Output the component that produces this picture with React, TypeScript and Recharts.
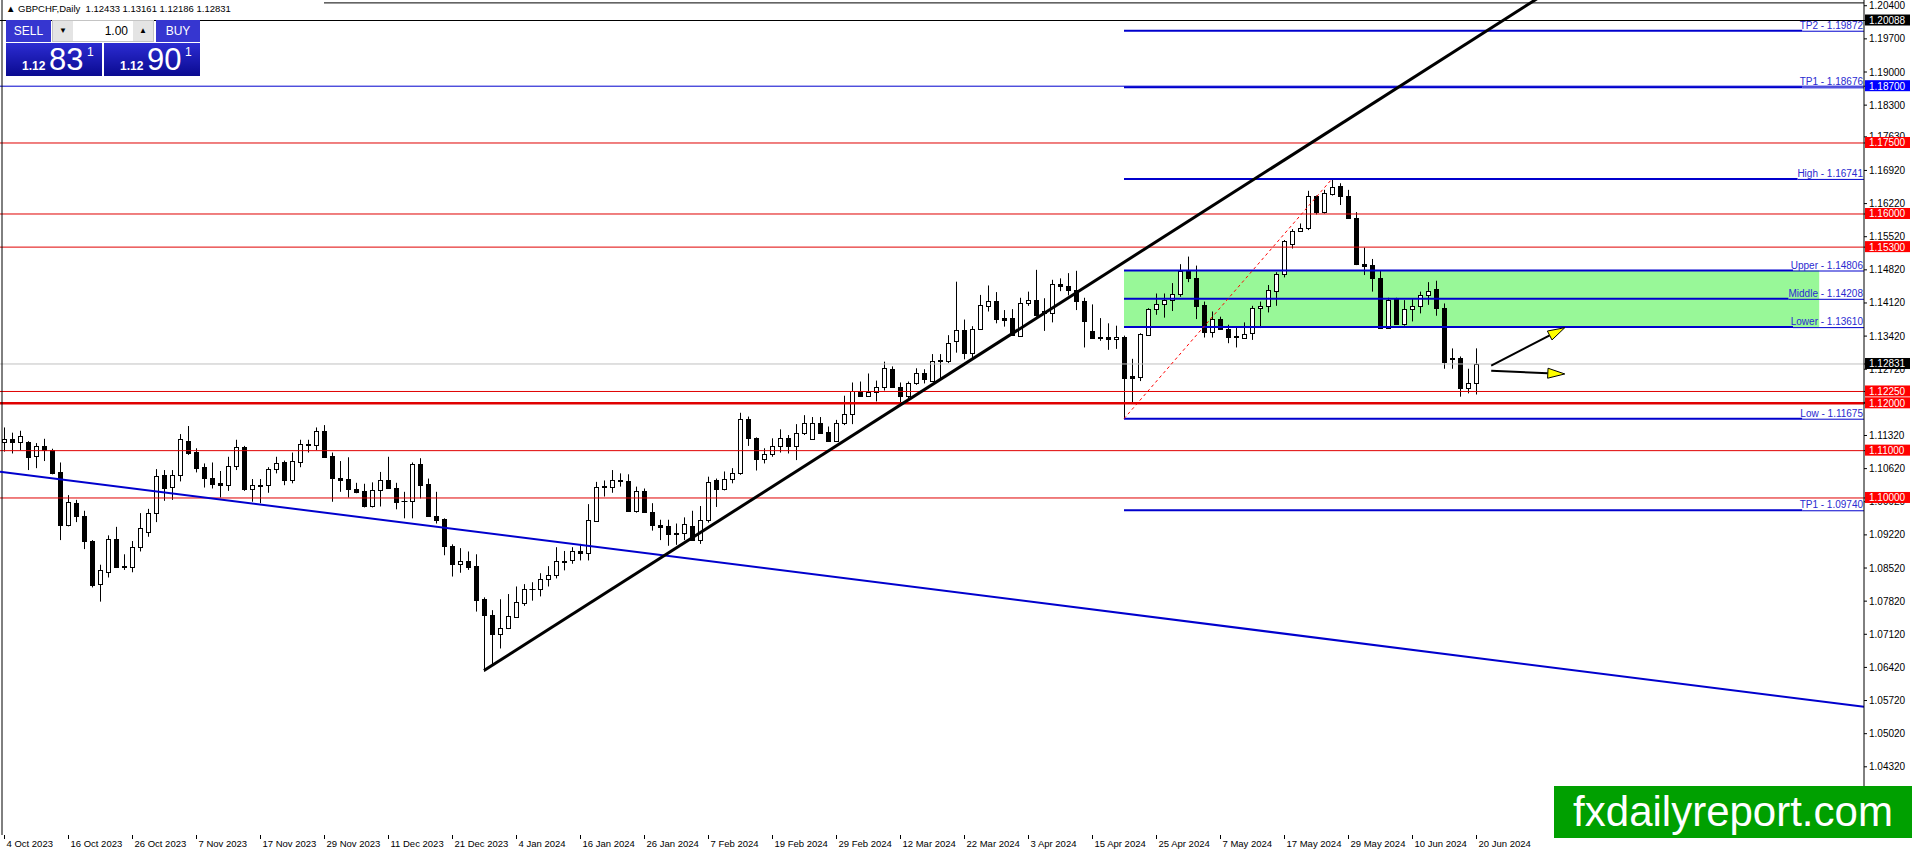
import { ComposedChart, Bar, XAxis, YAxis, ReferenceLine, ReferenceArea } from 'recharts'

// GBPCHF daily candles, 4 Oct 2023 .. 20 Jun 2024 (one per trading day)
const opens = [
  1.1118, 1.1125, 1.1118, 1.1118, 1.1088, 1.1109, 1.1101, 1.1054, 1.0942, 1.0990,
  1.0962, 1.0910, 1.0818, 1.0843, 1.0913, 1.0856, 1.0855, 1.0896, 1.0928, 1.0968,
  1.1049, 1.1023, 1.1049, 1.1120, 1.1097, 1.1066, 1.1042, 1.1032, 1.1028, 1.1067,
  1.1108, 1.1018, 1.1027, 1.1027, 1.1061, 1.1075, 1.1037, 1.1077, 1.1115, 1.1111,
  1.1142, 1.1089, 1.1043, 1.1040, 1.1020, 1.1015, 1.0982, 1.1016, 1.1039, 1.1022,
  1.0994, 1.0993, 1.1072, 1.1030, 1.0962, 1.0956, 1.0899, 1.0860, 1.0867, 1.0857,
  1.0787, 1.0753, 1.0712, 1.0725, 1.0749, 1.0779, 1.0807, 1.0807, 1.0828, 1.0837,
  1.0865, 1.0868, 1.0887, 1.0883, 1.0952, 1.1023, 1.1023, 1.1039, 1.1035, 1.0973,
  1.1015, 1.0971, 1.0942, 1.0941, 1.0925, 1.0925, 1.0941, 1.0911, 1.0954, 1.1037,
  1.1018, 1.1041, 1.1052, 1.1166, 1.1126, 1.1082, 1.1092, 1.1109, 1.1126, 1.1109,
  1.1138, 1.1124, 1.1158, 1.1139, 1.1121, 1.1159, 1.1177, 1.1225, 1.1216, 1.1223,
  1.1235, 1.1272, 1.1235, 1.1216, 1.1242, 1.1263, 1.1248, 1.1289, 1.1289, 1.1332,
  1.1354, 1.1306, 1.1358, 1.1406, 1.1416, 1.1380, 1.1380, 1.1343, 1.1413, 1.1418,
  1.1390, 1.1390, 1.1452, 1.1447, 1.1440, 1.1416, 1.1353, 1.1340, 1.1340, 1.1335,
  1.1341, 1.1258, 1.1256, 1.1344, 1.1399, 1.1409, 1.1418, 1.1430, 1.1480, 1.1464,
  1.1408, 1.1350, 1.1378, 1.1357, 1.1342, 1.1339, 1.1348, 1.1401, 1.1406, 1.1438,
  1.1473, 1.1536, 1.1564, 1.1570, 1.1637, 1.1604, 1.1642, 1.1660, 1.1637, 1.1592,
  1.1494, 1.1492, 1.1464, 1.1360, 1.1420, 1.1367, 1.1399, 1.1406, 1.1429, 1.1442,
  1.1401, 1.1295, 1.1295, 1.1232, 1.12433,
]
const highs = [
  1.1149, 1.1138, 1.1142, 1.1120, 1.1116, 1.1125, 1.1104, 1.1075, 1.1006, 1.0996,
  1.0973, 1.0911, 1.0859, 1.0921, 1.0939, 1.0881, 1.0909, 1.0968, 1.0977, 1.1061,
  1.1059, 1.1059, 1.1135, 1.1152, 1.1105, 1.1073, 1.1075, 1.1057, 1.1087, 1.1123,
  1.1110, 1.1040, 1.1040, 1.1065, 1.1087, 1.1079, 1.1096, 1.1123, 1.1123, 1.1149,
  1.1154, 1.1096, 1.1078, 1.1086, 1.1032, 1.1030, 1.1033, 1.1055, 1.1087, 1.1032,
  1.1013, 1.1075, 1.1084, 1.1041, 1.1013, 1.0957, 1.0902, 1.0894, 1.0887, 1.0881,
  1.0790, 1.0763, 1.0786, 1.0797, 1.0813, 1.0818, 1.0822, 1.0841, 1.0856, 1.0896,
  1.0888, 1.0896, 1.0903, 1.0987, 1.1034, 1.1037, 1.1059, 1.1052, 1.1050, 1.1024,
  1.1020, 1.0989, 1.0954, 1.0954, 1.0946, 1.0959, 1.0973, 1.0983, 1.1045, 1.1041,
  1.1056, 1.1063, 1.1180, 1.1172, 1.1128, 1.1105, 1.1126, 1.1145, 1.1133, 1.1156,
  1.1175, 1.1171, 1.1171, 1.1151, 1.1165, 1.1216, 1.1244, 1.1246, 1.1263, 1.1248,
  1.1288, 1.1278, 1.1244, 1.1246, 1.1274, 1.1272, 1.1304, 1.1304, 1.1344, 1.1457,
  1.1377, 1.1363, 1.1429, 1.1449, 1.1435, 1.1397, 1.1399, 1.1423, 1.1436, 1.1482,
  1.1422, 1.1461, 1.1464, 1.1475, 1.1480, 1.1423, 1.1409, 1.1380, 1.1369, 1.1364,
  1.1343, 1.1294, 1.1348, 1.1401, 1.1432, 1.1432, 1.1454, 1.1494, 1.1510, 1.1491,
  1.1415, 1.1394, 1.1383, 1.1366, 1.1359, 1.1371, 1.1406, 1.1415, 1.1450, 1.1477,
  1.1545, 1.1568, 1.1580, 1.1649, 1.1639, 1.1651, 1.16741, 1.1665, 1.1651, 1.1604,
  1.1529, 1.1505, 1.1480, 1.1423, 1.1423, 1.1418, 1.1422, 1.1436, 1.1456, 1.1459,
  1.1411, 1.1316, 1.1299, 1.1273, 1.13161,
]
const lows = [
  1.1098, 1.1094, 1.1101, 1.1059, 1.1063, 1.1078, 1.1050, 1.0911, 1.0940, 1.0949,
  1.0892, 1.0811, 1.0781, 1.0832, 1.0852, 1.0848, 1.0843, 1.0887, 1.0918, 1.0949,
  1.0994, 1.0996, 1.1035, 1.1091, 1.1054, 1.1022, 1.1020, 1.1001, 1.1015, 1.1059,
  1.1015, 1.0992, 1.0989, 1.1011, 1.1052, 1.1027, 1.1031, 1.1065, 1.1096, 1.1101,
  1.1085, 1.0992, 1.1013, 1.1001, 1.1010, 1.0980, 1.0980, 1.0982, 1.1021, 1.0976,
  1.0957, 1.0957, 1.0999, 1.0960, 1.0946, 1.0879, 1.0834, 1.0842, 1.0848, 1.0760,
  1.0633, 1.0645, 1.0682, 1.0723, 1.0748, 1.0772, 1.0783, 1.0792, 1.0813, 1.0830,
  1.0847, 1.0861, 1.0868, 1.0868, 1.0950, 1.1003, 1.1011, 1.1024, 1.0971, 1.0969,
  1.0969, 1.0931, 1.0911, 1.0899, 1.0901, 1.0911, 1.0910, 1.0903, 1.0948, 1.0981,
  1.1016, 1.1031, 1.1049, 1.1110, 1.1058, 1.1073, 1.1087, 1.1096, 1.1094, 1.1080,
  1.1133, 1.1123, 1.1137, 1.1119, 1.1119, 1.1154, 1.1156, 1.1214, 1.1215, 1.1204,
  1.1227, 1.1234, 1.1199, 1.1211, 1.1239, 1.1242, 1.1246, 1.1249, 1.1285, 1.1307,
  1.1293, 1.1295, 1.1356, 1.1394, 1.1369, 1.1362, 1.1343, 1.1341, 1.1406, 1.1383,
  1.1353, 1.1371, 1.1437, 1.1428, 1.1397, 1.1318, 1.1337, 1.1332, 1.1313, 1.1315,
  1.11675, 1.1200, 1.1247, 1.1343, 1.1387, 1.1381, 1.1395, 1.1425, 1.1456, 1.1378,
  1.1339, 1.1339, 1.1355, 1.1327, 1.1318, 1.1336, 1.1334, 1.1359, 1.1392, 1.1406,
  1.1466, 1.1527, 1.1563, 1.1566, 1.1599, 1.1601, 1.1639, 1.1619, 1.1590, 1.1492,
  1.1471, 1.1436, 1.1359, 1.1359, 1.1366, 1.1364, 1.1373, 1.1390, 1.1408, 1.1385,
  1.1273, 1.1273, 1.1214, 1.1221, 1.12186,
]
const closes = [
  1.1125, 1.1118, 1.1130, 1.1087, 1.1109, 1.1101, 1.1053, 1.0942, 1.0991, 1.0961,
  1.0910, 1.0816, 1.0848, 1.0913, 1.0854, 1.0854, 1.0896, 1.0936, 1.0968, 1.1047,
  1.1022, 1.1049, 1.1125, 1.1096, 1.1064, 1.1043, 1.1030, 1.1027, 1.1067, 1.1107,
  1.1018, 1.1027, 1.1026, 1.1061, 1.1073, 1.1037, 1.1078, 1.1113, 1.1111, 1.1141,
  1.1087, 1.1043, 1.1039, 1.1020, 1.1013, 1.0982, 1.1016, 1.1037, 1.1022, 1.0992,
  1.0993, 1.1072, 1.1028, 1.0961, 1.0954, 1.0899, 1.0860, 1.0867, 1.0855, 1.0785,
  1.0752, 1.0712, 1.0725, 1.0751, 1.0780, 1.0807, 1.0808, 1.0828, 1.0837, 1.0867,
  1.0866, 1.0887, 1.0883, 1.0954, 1.1024, 1.1025, 1.1039, 1.1035, 1.0973, 1.1015,
  1.0971, 1.0943, 1.0938, 1.0924, 1.0923, 1.0944, 1.0911, 1.0954, 1.1034, 1.1018,
  1.1041, 1.1052, 1.1166, 1.1126, 1.1082, 1.1092, 1.1109, 1.1126, 1.1109, 1.1138,
  1.1159, 1.1158, 1.1138, 1.1121, 1.1159, 1.1177, 1.1225, 1.1216, 1.1223, 1.1235,
  1.1274, 1.1235, 1.1216, 1.1242, 1.1263, 1.1251, 1.1290, 1.1291, 1.1328, 1.1354,
  1.1306, 1.1358, 1.1408, 1.1416, 1.1378, 1.1376, 1.1344, 1.1413, 1.1418, 1.1387,
  1.1394, 1.1452, 1.1447, 1.1440, 1.1416, 1.1373, 1.1339, 1.1338, 1.1335, 1.1340,
  1.1254, 1.1254, 1.1346, 1.1399, 1.1409, 1.1418, 1.1430, 1.1480, 1.1464, 1.1406,
  1.1350, 1.1378, 1.1357, 1.1341, 1.1340, 1.1346, 1.1401, 1.1406, 1.1440, 1.1473,
  1.1543, 1.1564, 1.1570, 1.1637, 1.1604, 1.1644, 1.1658, 1.1637, 1.1591, 1.1494,
  1.1491, 1.1464, 1.1360, 1.1418, 1.1367, 1.1399, 1.1406, 1.1429, 1.1438, 1.1401,
  1.1287, 1.1294, 1.1232, 1.1242, 1.12831,
]

// one label every 8 bars
const dateLabels = [
  '4 Oct 2023', '16 Oct 2023', '26 Oct 2023', '7 Nov 2023', '17 Nov 2023', '29 Nov 2023',
  '11 Dec 2023', '21 Dec 2023', '4 Jan 2024', '16 Jan 2024', '26 Jan 2024', '7 Feb 2024',
  '19 Feb 2024', '29 Feb 2024', '12 Mar 2024', '22 Mar 2024', '3 Apr 2024', '15 Apr 2024',
  '25 Apr 2024', '7 May 2024', '17 May 2024', '29 May 2024', '10 Jun 2024', '20 Jun 2024',
]
const priceTicks = [
  1.204, 1.197, 1.19, 1.183, 1.1763, 1.1692, 1.1622, 1.1552, 1.1482, 1.1412, 1.1342, 1.1272,
  1.1202, 1.1132, 1.1062, 1.0992, 1.0922, 1.0852, 1.0782, 1.0712, 1.0642, 1.0572, 1.0502,
  1.0432, 1.0362,
]

const redLevels = [1.175, 1.16, 1.153, 1.1225, 1.11, 1.1]
const strongRed = 1.12
const blueLevel = 1.187
const blackLevel = 1.20088
const bidLevel = 1.12831
const boxValues = [1.20088, 1.187, 1.175, 1.16, 1.153, 1.12831, 1.1225, 1.12, 1.11, 1.1]
const boxKinds = ['black', 'blue', 'red', 'red', 'red', 'black', 'red', 'red', 'red', 'red']

const fibNames = ['TP2', 'TP1', 'High', 'Upper', 'Middle', 'Lower', 'Low', 'TP1']
const fibValues = [1.19872, 1.18676, 1.16741, 1.14806, 1.14208, 1.1361, 1.11675, 1.0974]
const fibStart = 140
const zoneEnd = 226.9

const blackTrend = [{ x: 60, y: 1.06353 }, { x: 200, y: 1.21451 }]
const blueTrend = [{ x: -0.5, y: 1.10555 }, { x: 232.5, y: 1.05588 }]
const fibDiagonal = [{ x: 140, y: 1.11675 }, { x: 166, y: 1.16741 }]
const arrowUp = [{ x: 185.9, y: 1.12795 }, { x: 195.1, y: 1.13598 }]
const arrowFlat = [{ x: 185.9, y: 1.12689 }, { x: 195.1, y: 1.1262 }]

const SLOTS = 233
const Y_MIN = 1.028792
const Y_MAX = 1.205213
const FONT = '"Liberation Sans", Arial, sans-serif'
const RED = '#e00000'
const BLUE = '#0000cd'
const BOX_FILL: Record<string, string> = { black: '#000', blue: '#0000ff', red: '#ff0000' }

const rows = Array.from({ length: SLOTS }, (_, i) =>
  i < opens.length
    ? { i, range: [lows[i], highs[i]], o: opens[i], h: highs[i], l: lows[i], c: closes[i] }
    : { i })

function Candle(props: any) {
  const { x, width, y, height, payload } = props
  if (!payload || payload.o == null) return null
  const { o, h, l, c } = payload
  const cx = Math.round(x + width / 2) + 0.5
  const top = Math.min(y, y + height)
  const span = Math.abs(height)
  const at = (v: number) => top + ((h - v) / (h - l)) * span
  const bt = Math.round(Math.min(at(o), at(c))) + 0.5
  const bb = Math.round(Math.max(at(o), at(c))) + 0.5
  return (
    <g>
      <line x1={cx} x2={cx} y1={top} y2={top + span} stroke="#000" />
      {bb - bt < 1
        ? <line x1={cx - 3} x2={cx + 3} y1={bt} y2={bt} stroke="#000" />
        : <rect x={cx - 2} y={bt} width={4} height={bb - bt} fill={c >= o ? '#fff' : '#000'} stroke="#000" />}
    </g>
  )
}

function PriceTick(props: any) {
  const { x, y, payload } = props
  const k = boxValues.indexOf(payload.value)
  if (k >= 0) {
    return (
      <g>
        <rect x={x - 4} y={y - 6} width={45} height={11} fill={BOX_FILL[boxKinds[k]]} />
        <text x={x} y={y} dy="0.35em" fill="#fff" fontSize={10} fontFamily={FONT}>{payload.value.toFixed(5)}</text>
      </g>
    )
  }
  return <text x={x} y={y} dy="0.35em" fill="#000" fontSize={10} fontFamily={FONT}>{payload.value.toFixed(5)}</text>
}

// time label hung under the bottom of the plot at its bar
function dateShape(label: string) {
  return (p: any) => {
    const base = Math.max(p.y1, p.y2)
    const x = Math.round(p.x1) + 0.5
    return (
      <g>
        <line x1={x} x2={x} y1={base} y2={base + 4} stroke="#000" />
        <text x={x + 2} y={base + 12} fill="#000" fontSize={9.5} fontFamily={FONT}>{label}</text>
      </g>
    )
  }
}

function fibShape(label: string) {
  return (p: any) => {
    const cut = p.x2 - (label.length * 4.6 + 2)
    return (
      <g>
        <line x1={p.x1} x2={cut} y1={p.y1} y2={p.y2} stroke={BLUE} strokeWidth={2} />
        <line x1={cut} x2={p.x2} y1={p.y1 + 0.5} y2={p.y2 + 0.5} stroke={BLUE} strokeWidth={1} />
        <text x={p.x2 - 1} y={p.y1 - 2} textAnchor="end" fill="#2a2ad0" fontSize={10} fontFamily={FONT}>{label}</text>
      </g>
    )
  }
}

function ArrowShape(p: any) {
  const dx = p.x2 - p.x1
  const dy = p.y2 - p.y1
  const len = Math.hypot(dx, dy)
  const ux = dx / len
  const uy = dy / len
  const bx = p.x2 - ux * 17
  const by = p.y2 - uy * 17
  const pts = `${p.x2},${p.y2} ${bx - uy * 5},${by + ux * 5} ${bx + uy * 5},${by - ux * 5}`
  return (
    <g>
      <line x1={p.x1} y1={p.y1} x2={bx} y2={by} stroke="#000" strokeWidth={2} />
      <polygon points={pts} fill="#ffff00" stroke="#000" strokeWidth={1} />
    </g>
  )
}

function TradePanel() {
  const box = { position: 'absolute' as const, color: '#fff', fontFamily: FONT }
  const price = (left: number, big: string) => (
    <div style={{ ...box, left, top: 43, width: 96, height: 33, background: 'linear-gradient(#2c2cd2, #0a0a90)' }}>
      <span style={{ position: 'absolute', left: 16, top: 16, fontSize: 12, fontWeight: 'bold' }}>1.12</span>
      <span style={{ position: 'absolute', left: 43, top: -1, fontSize: 31 }}>{big}</span>
      <span style={{ position: 'absolute', left: 81, top: 2, fontSize: 12 }}>1</span>
    </div>
  )
  return (
    <>
      <div style={{ position: 'absolute', left: 6, top: 3, fontSize: 9.5, fontFamily: FONT, color: '#000', whiteSpace: 'pre' }}>
        {'▲ GBPCHF,Daily  1.12433 1.13161 1.12186 1.12831'}
      </div>
      <div style={{ ...box, left: 6, top: 20, width: 45, height: 22, background: '#3636d0', fontSize: 12, textAlign: 'center', lineHeight: '22px' }}>SELL</div>
      <div style={{ position: 'absolute', left: 52, top: 20, width: 100, height: 20, background: '#fff', border: '1px solid #c4c4c4', fontFamily: FONT }}>
        <div style={{ position: 'absolute', left: 0, top: 0, width: 20, height: 20, background: '#e4e4e4', fontSize: 8, textAlign: 'center', lineHeight: '20px' }}>▼</div>
        <div style={{ position: 'absolute', right: 0, top: 0, width: 20, height: 20, background: '#e4e4e4', fontSize: 8, textAlign: 'center', lineHeight: '20px' }}>▲</div>
        <div style={{ position: 'absolute', right: 25, top: 0, fontSize: 12, lineHeight: '20px' }}>1.00</div>
      </div>
      <div style={{ ...box, left: 156, top: 20, width: 44, height: 22, background: '#3636d0', fontSize: 12, textAlign: 'center', lineHeight: '22px' }}>BUY</div>
      {price(6, '83')}
      {price(104, '90')}
    </>
  )
}

export default function App() {
  return (
    <div style={{ position: 'relative', width: 1912, height: 855, overflow: 'hidden', background: '#fff' }}>
      <style>{'body{margin:0}'}</style>
      <ComposedChart width={1912} height={855} data={rows} margin={{ top: 0, right: 0, bottom: 0, left: 0 }}>
        <XAxis xAxisId="c" dataKey="i" type="category" hide />
        <XAxis xAxisId="n" dataKey="i" type="number" domain={[-0.5, SLOTS - 0.5]} allowDataOverflow
          height={20} tick={false} tickLine={false} axisLine={{ stroke: '#000' }} />
        <YAxis orientation="right" width={48} type="number" domain={[Y_MIN, Y_MAX]} allowDataOverflow
          ticks={[...priceTicks, ...boxValues]} interval={0} tickSize={3} tickMargin={2}
          tick={<PriceTick />} tickLine={{ stroke: '#000' }} axisLine={{ stroke: '#000' }} />

        <ReferenceArea xAxisId="n" x1={fibStart} x2={zoneEnd} y1={fibValues[5]} y2={fibValues[3]}
          fill="#98f898" fillOpacity={1} stroke="none" />

        <Bar xAxisId="c" dataKey="range" shape={<Candle />} isAnimationActive={false} />

        {redLevels.map(v => <ReferenceLine key={v} xAxisId="n" y={v} stroke={RED} strokeWidth={1} />)}
        <ReferenceLine xAxisId="n" y={strongRed} stroke={RED} strokeWidth={2.5} />
        <ReferenceLine xAxisId="n" y={blueLevel} stroke={BLUE} strokeWidth={1} />
        <ReferenceLine xAxisId="n" y={blackLevel} stroke="#000" strokeWidth={1} />
        <ReferenceLine xAxisId="n" y={bidLevel} stroke="#c0c0c0" strokeWidth={1} />
        <ReferenceLine xAxisId="n" segment={[{ x: 40, y: 1.2046 }, { x: SLOTS - 0.5, y: 1.2046 }]} stroke="#000" strokeWidth={1} />
        <ReferenceLine xAxisId="n" x={-0.25} stroke="#000" strokeWidth={1} />

        {dateLabels.map((d, k) => (
          <ReferenceLine key={d} xAxisId="n" x={k * 8} shape={dateShape(d)} />
        ))}

        {fibValues.map((v, k) => (
          <ReferenceLine key={k} xAxisId="n" segment={[{ x: fibStart, y: v }, { x: SLOTS - 0.5, y: v }]}
            shape={fibShape(`${fibNames[k]} - ${v.toFixed(5)}`)} />
        ))}
        <ReferenceLine xAxisId="n" segment={fibDiagonal} stroke="#ff0000" strokeWidth={1} strokeDasharray="3 3" />

        <ReferenceLine xAxisId="n" segment={blueTrend} stroke={BLUE} strokeWidth={2} ifOverflow="hidden" />
        <ReferenceLine xAxisId="n" segment={blackTrend} stroke="#000" strokeWidth={3} ifOverflow="hidden" />

        <ReferenceLine xAxisId="n" segment={arrowUp} shape={ArrowShape} />
        <ReferenceLine xAxisId="n" segment={arrowFlat} shape={ArrowShape} />
      </ComposedChart>

      <TradePanel />

      <div style={{ position: 'absolute', left: 1554, top: 786, width: 358, height: 52, background: '#00a000', color: '#fff',
        fontFamily: FONT, fontSize: 42, lineHeight: '52px', textAlign: 'center' }}>
        fxdailyreport.com
      </div>
    </div>
  )
}
